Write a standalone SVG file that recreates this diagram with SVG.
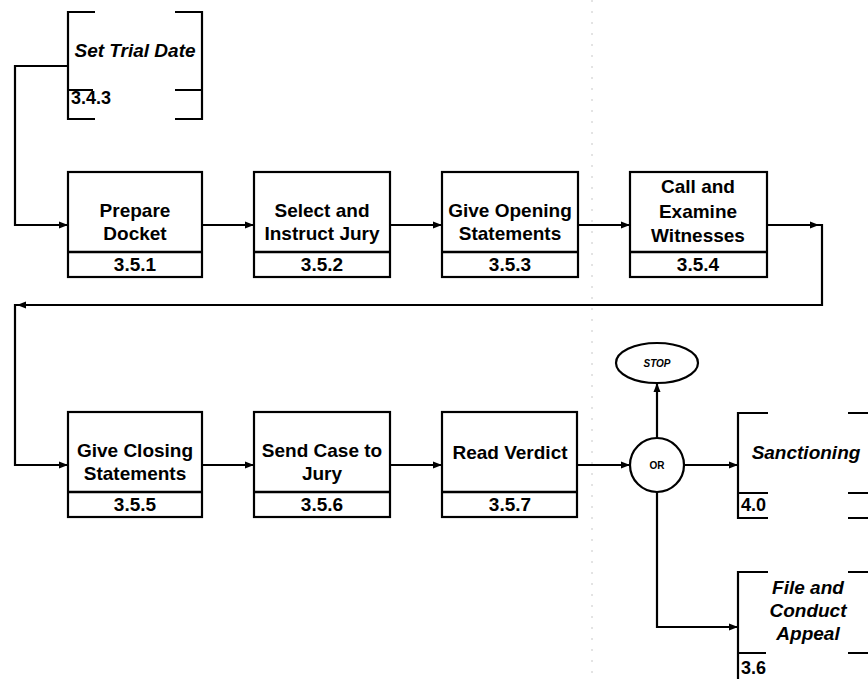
<svg xmlns="http://www.w3.org/2000/svg" width="868" height="679" viewBox="0 0 868 679">
<defs>
<marker id="arr" viewBox="0 0 9 8" refX="8" refY="4" markerWidth="9" markerHeight="8" markerUnits="userSpaceOnUse" orient="auto">
<path d="M0,0.5 L9,4 L0,7.5 Z" fill="#000"/>
</marker>
</defs>
<style>
.box{fill:#fff;stroke:#000;stroke-width:2.2}
.div{stroke:#000;stroke-width:2.6;fill:none}
.br{stroke:#000;stroke-width:2.2;fill:none}
.t{font-family:"Liberation Sans",Arial,sans-serif;font-weight:bold;font-size:19px;fill:#000;text-anchor:middle}
.ti{font-family:"Liberation Sans",Arial,sans-serif;font-weight:bold;font-style:italic;font-size:19px;fill:#000;text-anchor:middle}
.n{font-family:"Liberation Sans",Arial,sans-serif;font-weight:bold;font-size:18px;fill:#000}
.s{font-family:"Liberation Sans",Arial,sans-serif;font-weight:bold;font-size:10px;fill:#000;text-anchor:middle}
.c{stroke:#000;stroke-width:2.2;fill:none}
</style>
<rect width="868" height="679" fill="#fff"/>
<line x1="592" y1="0" x2="592" y2="679" stroke="#c8c8c8" stroke-width="1" stroke-dasharray="2,9"/>

<g id="connectors">
<path class="c" d="M68,66 H15 V225 H67" marker-end="url(#arr)"/>
<path class="c" d="M202,225 H253" marker-end="url(#arr)"/>
<path class="c" d="M390,225 H441" marker-end="url(#arr)"/>
<path class="c" d="M578,225 H629" marker-end="url(#arr)"/>
<path class="c" d="M767,225 H818" marker-end="url(#arr)"/>
<path class="c" d="M817,225 H822 V305 H18" marker-end="url(#arr)"/>
<path class="c" d="M19,305 H15 V465 H67" marker-end="url(#arr)"/>
<path class="c" d="M202,465 H253" marker-end="url(#arr)"/>
<path class="c" d="M390,465 H441" marker-end="url(#arr)"/>
<path class="c" d="M577,465 H629" marker-end="url(#arr)"/>
<path class="c" d="M657,438 V384" marker-end="url(#arr)"/>
<path class="c" d="M684,465 H737" marker-end="url(#arr)"/>
<path class="c" d="M657,492 V627 H737" marker-end="url(#arr)"/>
</g>

<g id="set-trial-date">
<path class="br" d="M95,12 H68 V119 H95 M68,90 H93 M175,12 H202 V119 H175 M175,90 H202"/>
<text class="ti" x="135" y="57">Set Trial Date</text>
<text class="n" x="71" y="104">3.4.3</text>
</g>

<g id="prepare-docket">
<rect class="box" x="68" y="172" width="134" height="105"/>
<line class="div" x1="68" y1="252" x2="202" y2="252"/>
<text class="t" x="135" y="217">Prepare</text>
<text class="t" x="135" y="240">Docket</text>
<text class="t" x="135" y="271">3.5.1</text>
</g>

<g id="select-instruct-jury">
<rect class="box" x="254" y="172" width="136" height="105"/>
<line class="div" x1="254" y1="252" x2="390" y2="252"/>
<text class="t" x="322" y="217">Select and</text>
<text class="t" x="322" y="240">Instruct Jury</text>
<text class="t" x="322" y="271">3.5.2</text>
</g>

<g id="give-opening-statements">
<rect class="box" x="442" y="172" width="136" height="105"/>
<line class="div" x1="442" y1="252" x2="578" y2="252"/>
<text class="t" x="510" y="217">Give Opening</text>
<text class="t" x="510" y="240">Statements</text>
<text class="t" x="510" y="271">3.5.3</text>
</g>

<g id="call-examine-witnesses">
<rect class="box" x="630" y="172" width="137" height="105"/>
<line class="div" x1="630" y1="252" x2="767" y2="252"/>
<text class="t" x="698" y="193">Call and</text>
<text class="t" x="698" y="218">Examine</text>
<text class="t" x="698" y="242">Witnesses</text>
<text class="t" x="698" y="271">3.5.4</text>
</g>

<g id="give-closing-statements">
<rect class="box" x="68" y="412" width="134" height="105"/>
<line class="div" x1="68" y1="492" x2="202" y2="492"/>
<text class="t" x="135" y="457">Give Closing</text>
<text class="t" x="135" y="480">Statements</text>
<text class="t" x="135" y="511">3.5.5</text>
</g>

<g id="send-case-to-jury">
<rect class="box" x="254" y="412" width="136" height="105"/>
<line class="div" x1="254" y1="492" x2="390" y2="492"/>
<text class="t" x="322" y="457">Send Case to</text>
<text class="t" x="322" y="480">Jury</text>
<text class="t" x="322" y="511">3.5.6</text>
</g>

<g id="read-verdict">
<rect class="box" x="442" y="412" width="135" height="105"/>
<line class="div" x1="442" y1="492" x2="577" y2="492"/>
<text class="t" x="510" y="459">Read Verdict</text>
<text class="t" x="510" y="511">3.5.7</text>
</g>

<g id="or-junction">
<circle cx="657" cy="465" r="27" fill="#fff" stroke="#000" stroke-width="2.2"/>
<text class="s" x="657" y="469">OR</text>
</g>

<g id="stop">
<ellipse cx="657" cy="363" rx="41" ry="20" fill="#fff" stroke="#000" stroke-width="2.2"/>
<text class="s" x="657" y="367" font-style="italic">STOP</text>
</g>

<g id="sanctioning">
<path class="br" d="M768,413 H738 V518 H768 M738,493 H768 M848,413 H870 M848,493 H870 M848,518 H870"/>
<text class="ti" x="806" y="459">Sanctioning</text>
<text class="n" x="741" y="511">4.0</text>
</g>

<g id="file-conduct-appeal">
<path class="br" d="M768,572 H738 V681 M738,653 H766 M848,572 H870 M848,653 H870"/>
<text class="ti" x="808" y="594">File and</text>
<text class="ti" x="808" y="617">Conduct</text>
<text class="ti" x="808" y="640">Appeal</text>
<text class="n" x="741" y="674">3.6</text>
</g>
</svg>
